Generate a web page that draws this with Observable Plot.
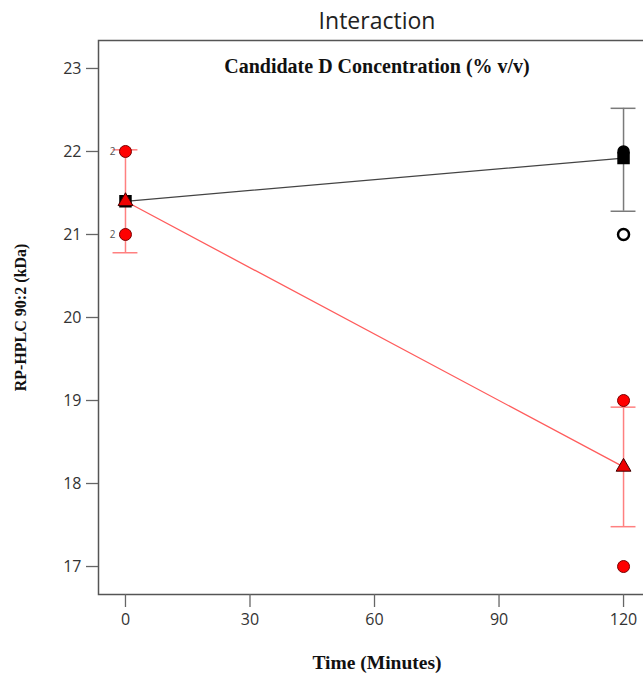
<!DOCTYPE html>
<html>
<head>
<meta charset="utf-8">
<script src="https://cdn.jsdelivr.net/npm/d3@7"></script>
<script src="https://cdn.jsdelivr.net/npm/@observablehq/plot@0.6"></script>
<style>
  html, body { margin: 0; padding: 0; background: #fff; }
  #chart svg { display: block; overflow: hidden; }
</style>
</head>
<body>
<div id="chart"></div>
<script>
// ---- data ----
const times = [0, 120];
const yTicks = [17, 18, 19, 20, 21, 22, 23];
const xTicks = [0, 30, 60, 90, 120];

// black series (square markers)
const blackMean = [21.4, 21.92];
const blackLow  = [null, 21.28];
const blackHigh = [null, 22.52];

// red series (triangle markers)
const redMean = [21.4, 18.2];
const redLow  = [20.78, 17.48];
const redHigh = [22.02, 18.92];

// design points
const redPtTime  = [0, 0, 120, 120];
const redPtValue = [22, 21, 19, 17];
const redPtCount = [2, 2, 1, 1];
const blackPtTime  = [120, 120];
const blackPtValue = [22, 21];
const blackPtFilled = [true, false];

const title = "Interaction";
const subtitle = "Candidate D Concentration (% v/v)";
const xLabel = "Time (Minutes)";
const yLabel = "RP-HPLC 90:2 (kDa)";

// ---- tables ----
const blackRows = times.map((t, i) => ({t, m: blackMean[i], lo: blackLow[i], hi: blackHigh[i]}));
const redRows = times.map((t, i) => ({t, m: redMean[i], lo: redLow[i], hi: redHigh[i]}));
const blackErr = blackRows.filter(d => d.lo != null);
const redErr = redRows.filter(d => d.lo != null);
const redPts = redPtTime.map((t, i) => ({t, v: redPtValue[i], n: redPtCount[i]}));
const blackPts = blackPtTime.map((t, i) => ({t, v: blackPtValue[i], f: blackPtFilled[i]}));
const capHalf = 3.0; // minutes

const caps = (rows) => rows.flatMap(d => [{t: d.t, y: d.lo}, {t: d.t, y: d.hi}]);

const tickFont = "'Open Sans', 'Noto Sans', sans-serif";
const serif = "'Liberation Serif', 'DejaVu Serif', serif";

const chart = Plot.plot({
  width: 643,
  height: 675,
  marginLeft: 98,
  marginRight: -12,
  marginTop: 40,
  marginBottom: 81,
  style: {fontFamily: tickFont, fontSize: "16px", color: "#333", background: "#fff"},
  x: {domain: [-6.5, 127.7], ticks: xTicks, label: null},
  y: {domain: [16.663, 23.337], ticks: yTicks, label: null},
  marks: [
    Plot.frame({stroke: "#555", strokeWidth: 1.5}),
    Plot.axisX({ticks: xTicks, tickFormat: "d", tickSize: 13, tickPadding: 6, stroke: "#666", strokeWidth: 1.3, fontSize: 16, fill: "#333", label: null}),
    Plot.axisY({ticks: yTicks, tickFormat: "d", tickSize: 12, tickPadding: 5, stroke: "#666", strokeWidth: 1.3, fontSize: 16, fill: "#333", label: null}),
    // titles
    Plot.text([title], {frameAnchor: "top", lineAnchor: "middle", dy: -19, fontSize: 23, fill: "#222", fontFamily: tickFont}),
    Plot.text([subtitle], {frameAnchor: "top", lineAnchor: "middle", dy: 26, fontSize: 20, fontWeight: "bold", fill: "#111", fontFamily: serif}),
    Plot.text([xLabel], {frameAnchor: "bottom", lineAnchor: "middle", dy: 68, fontSize: 19.5, fontWeight: "bold", fill: "#111", fontFamily: serif}),
    Plot.text([yLabel], {frameAnchor: "left", lineAnchor: "middle", textAnchor: "middle", dx: -78, rotate: -90, fontSize: 16, fontWeight: "bold", fill: "#111", fontFamily: serif}),
    // error bars
    Plot.ruleX(blackErr, {x: "t", y1: "lo", y2: "hi", stroke: "#7a7a7a", strokeWidth: 1.5}),
    Plot.ruleY(caps(blackErr), {y: "y", x1: d => d.t - capHalf, x2: d => d.t + capHalf, stroke: "#7a7a7a", strokeWidth: 1.5}),
    Plot.ruleX(redErr, {x: "t", y1: "lo", y2: "hi", stroke: "#ff8080", strokeWidth: 1.5}),
    Plot.ruleY(caps(redErr), {y: "y", x1: d => d.t - capHalf, x2: d => d.t + capHalf, stroke: "#ff8080", strokeWidth: 1.5}),
    // lines
    Plot.line(blackRows, {x: "t", y: "m", stroke: "#444", strokeWidth: 1.2}),
    Plot.line(redRows, {x: "t", y: "m", stroke: "#ff5c5c", strokeWidth: 1.3}),
    // design points
    Plot.dot(redPts, {x: "t", y: "v", r: 6, fill: "#ff0000", stroke: "#7a0000", strokeWidth: 1}),
    Plot.text(redPts.filter(d => d.n > 1), {x: "t", y: "v", text: d => String(d.n), dx: -10, textAnchor: "end", fontSize: 10, fill: "#555"}),
    Plot.dot(blackPts.filter(d => !d.f), {x: "t", y: "v", r: 5.5, fill: "#fff", stroke: "#000", strokeWidth: 2.5}),
    Plot.dot(blackPts.filter(d => d.f), {x: "t", y: "v", r: 5.5, fill: "#000", stroke: "#000"}),
    // means
    Plot.dot(blackRows, {x: "t", y: "m", symbol: "square", r: 6.2, fill: "#000", stroke: "#000"}),
    Plot.dot(redRows, {x: "t", y: "m", symbol: "triangle", r: 5.5, fill: "#ee0000", stroke: "#400000", strokeWidth: 1})
  ]
});
document.getElementById("chart").appendChild(chart);
</script>
</body>
</html>
